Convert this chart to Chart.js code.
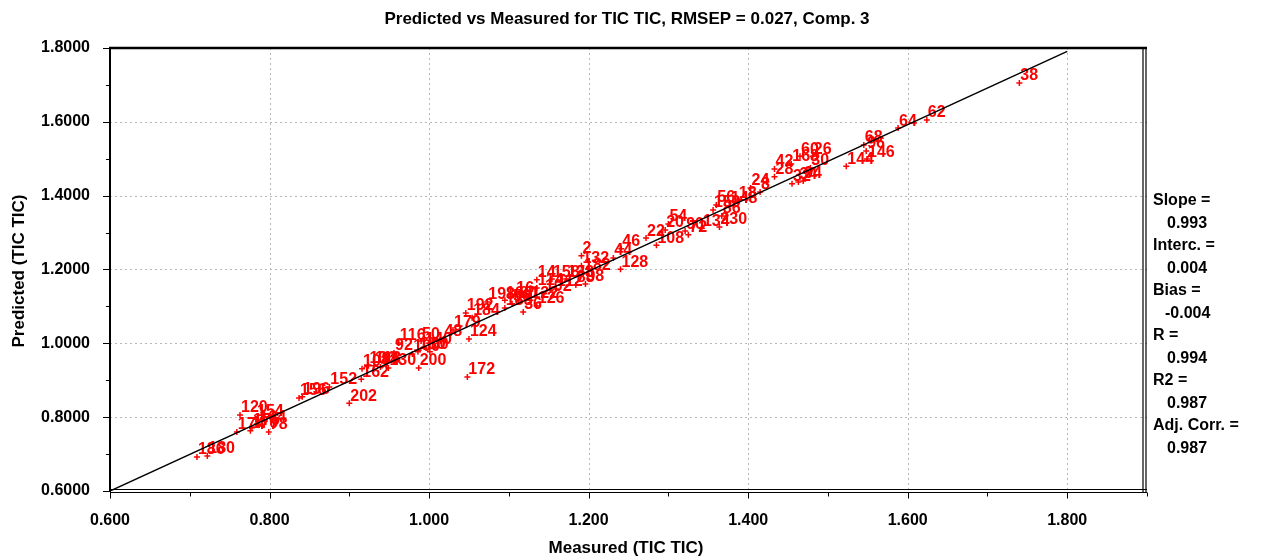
<!DOCTYPE html>
<html>
<head>
<meta charset="utf-8">
<script src="https://cdn.jsdelivr.net/npm/chart.js@4.4.1/dist/chart.umd.min.js"></script>
<style>
  html, body { margin: 0; padding: 0; background: #fff; }
  #wrap { width: 1261px; height: 557px; }
</style>
</head>
<body>
<div id="wrap"><canvas id="predChart" width="1261" height="557"></canvas></div>
<script>
const chartTitle = 'Predicted vs Measured for TIC TIC, RMSEP = 0.027, Comp. 3';
const xTitle = 'Measured (TIC TIC)';
const yTitle = 'Predicted (TIC TIC)';

const pointLabels = [
  '186', '180', '174', '120', '154', '170', '176', '164', '78',
  '156', '196', '152', '202', '162', '104', '136', '118', '84', '130',
  '200', '172', '92', '100', '180', '90', '116', '50', '140', '48', '179',
  '124', '192', '184', '198', '166', '188', '56', '80', '36', '16', '122',
  '126', '102', '114', '112', '14', '158', '138',
  '2', '132', '182', '88', '98', '44', '46', '128', '108', '22',
  '54', '20', '90', '72', '134', '230', '150', '86', '56', '148', '18',
  '24', '8', '42', '28', '168', '60', '26', '30', '32', '34', '94',
  '144', '68', '96', '146', '64', '62', '38'
];
const measured = [
  0.709, 0.722, 0.759, 0.763, 0.783, 0.776, 0.778, 0.786, 0.799,
  0.837, 0.841, 0.875, 0.900, 0.915, 0.916, 0.924, 0.931, 0.939, 0.949,
  0.987, 1.048, 0.956, 0.979, 0.986, 1.001, 0.962, 0.990, 0.994, 1.018, 1.030,
  1.050, 1.046, 1.054, 1.073, 1.095, 1.095, 1.104, 1.112, 1.118, 1.108, 1.127,
  1.135, 1.144, 1.135, 1.159, 1.135, 1.154, 1.172,
  1.191, 1.191, 1.193, 1.184, 1.196, 1.231, 1.241, 1.240, 1.285, 1.272,
  1.300, 1.296, 1.321, 1.325, 1.342, 1.364, 1.356, 1.367, 1.360, 1.377, 1.387,
  1.403, 1.415, 1.433, 1.433, 1.454, 1.465, 1.481, 1.478, 1.455, 1.463, 1.469,
  1.523, 1.545, 1.548, 1.549, 1.588, 1.624, 1.740
];
const predicted = [
  0.692, 0.695, 0.760, 0.806, 0.795, 0.763, 0.771, 0.779, 0.760,
  0.852, 0.855, 0.882, 0.838, 0.903, 0.931, 0.939, 0.939, 0.936, 0.933,
  0.933, 0.909, 0.974, 0.971, 0.977, 0.977, 1.001, 1.006, 0.990, 1.012, 1.036,
  1.012, 1.082, 1.069, 1.112, 1.117, 1.096, 1.107, 1.115, 1.085, 1.128, 1.117,
  1.101, 1.134, 1.150, 1.147, 1.172, 1.174, 1.174,
  1.237, 1.210, 1.191, 1.158, 1.161, 1.231, 1.256, 1.201, 1.266, 1.285,
  1.323, 1.307, 1.304, 1.294, 1.312, 1.315, 1.361, 1.345, 1.375, 1.372, 1.388,
  1.421, 1.410, 1.472, 1.451, 1.486, 1.507, 1.507, 1.475, 1.432, 1.437, 1.440,
  1.480, 1.537, 1.521, 1.499, 1.583, 1.605, 1.705
];

// fitted line end points
const lineX = [0.600, 1.800];
const lineY = [0.600, 1.791];

const statLines = [
  'Slope =', '0.993', 'Interc. =', '0.004', 'Bias =', '-0.004',
  'R =', '0.994', 'R2 =', '0.987', 'Adj. Corr. =', '0.987'
];

const FONT = 'Arial, "Liberation Sans", sans-serif';

function isMajor(v) {
  return Math.round(v * 10) % 2 === 0;
}

const decorPlugin = {
  id: 'decor',
  beforeDatasetsDraw(chart) {
    const { ctx, chartArea: a, scales: { x, y } } = chart;
    ctx.save();
    // dotted grid
    ctx.strokeStyle = '#b8b8b8';
    ctx.lineWidth = 1;
    ctx.setLineDash([2, 3]);
    x.ticks.forEach(t => {
      if (!isMajor(t.value)) return;
      const px = Math.round(x.getPixelForValue(t.value)) + 0.5;
      if (px <= a.left + 2 || px >= a.right - 2) return;
      ctx.beginPath(); ctx.moveTo(px, a.top); ctx.lineTo(px, a.bottom); ctx.stroke();
    });
    y.ticks.forEach(t => {
      if (!isMajor(t.value)) return;
      const py = Math.round(y.getPixelForValue(t.value)) + 0.5;
      if (py <= a.top + 2 || py >= a.bottom - 2) return;
      ctx.beginPath(); ctx.moveTo(a.left, py); ctx.lineTo(a.right, py); ctx.stroke();
    });
    ctx.setLineDash([]);

    // sample numbers next to the markers
    ctx.fillStyle = '#ff0000';
    ctx.font = 'bold 16px ' + FONT;
    ctx.textAlign = 'left';
    ctx.textBaseline = 'bottom';
    const meta = chart.getDatasetMeta(1);
    meta.data.forEach((pt, i) => {
      ctx.fillText(pointLabels[i], pt.x + 1, pt.y + 1);
    });
    ctx.restore();
  },
  afterDraw(chart) {
    const { ctx, chartArea: a, scales: { x, y } } = chart;
    ctx.save();
    ctx.strokeStyle = '#000';

    // frame
    ctx.lineWidth = 2.5;
    ctx.beginPath(); ctx.moveTo(a.left - 1, a.top); ctx.lineTo(a.right, a.top); ctx.stroke();
    ctx.lineWidth = 2;
    ctx.beginPath(); ctx.moveTo(a.left, a.top); ctx.lineTo(a.left, a.bottom + 1); ctx.stroke();
    ctx.lineWidth = 1.2;
    ctx.beginPath(); ctx.moveTo(a.left, a.bottom - 1.5); ctx.lineTo(a.right, a.bottom - 1.5); ctx.stroke();
    ctx.beginPath(); ctx.moveTo(a.left, a.bottom + 1.5); ctx.lineTo(a.right, a.bottom + 1.5); ctx.stroke();
    ctx.beginPath(); ctx.moveTo(a.right - 4, a.top); ctx.lineTo(a.right - 4, a.bottom + 1.5); ctx.stroke();
    ctx.beginPath(); ctx.moveTo(a.right - 1, a.top); ctx.lineTo(a.right - 1, a.bottom + 1.5); ctx.stroke();

    // tick marks
    ctx.lineWidth = 1;
    x.ticks.forEach(t => {
      const px = Math.round(x.getPixelForValue(t.value)) + 0.5;
      const len = isMajor(t.value) ? 6 : 4;
      ctx.beginPath(); ctx.moveTo(px, a.bottom + 1.5); ctx.lineTo(px, a.bottom + 1.5 + len); ctx.stroke();
    });
    y.ticks.forEach(t => {
      const py = Math.round(y.getPixelForValue(t.value)) + 0.5;
      const len = isMajor(t.value) ? 7 : 4;
      ctx.beginPath(); ctx.moveTo(a.left - len, py); ctx.lineTo(a.left, py); ctx.stroke();
    });

    // titles
    ctx.fillStyle = '#000';
    ctx.font = 'bold 17px ' + FONT;
    ctx.textAlign = 'center';
    ctx.textBaseline = 'alphabetic';
    ctx.fillText(chartTitle, 627, 24);
    ctx.fillText(xTitle, 626, 553);
    ctx.save();
    ctx.translate(24, 271);
    ctx.rotate(-Math.PI / 2);
    ctx.fillText(yTitle, 0, 0);
    ctx.restore();

    // statistics column
    ctx.font = 'bold 16px ' + FONT;
    ctx.textAlign = 'left';
    statLines.forEach((s, i) => {
      const xx = i % 2 === 0 ? 1153 : (s.startsWith('-') ? 1165 : 1167);
      ctx.fillText(s, xx, 205 + i * 22.5);
    });
    ctx.restore();
  }
};

new Chart(document.getElementById('predChart'), {
  type: 'scatter',
  data: {
    datasets: [
      {
        type: 'line',
        data: lineX.map((v, i) => ({ x: v, y: lineY[i] })),
        borderColor: '#000',
        borderWidth: 1.5,
        pointRadius: 0,
        fill: false
      },
      {
        data: measured.map((v, i) => ({ x: v, y: predicted[i] })),
        pointStyle: 'cross',
        pointRadius: 3,
        borderColor: '#ff0000',
        backgroundColor: '#ff0000',
        borderWidth: 1.5
      }
    ]
  },
  options: {
    responsive: false,
    animation: false,
    layout: { padding: { top: 48, right: 114, left: 0, bottom: 0 } },
    plugins: {
      legend: { display: false },
      tooltip: { enabled: false },
      title: { display: false }
    },
    scales: {
      x: {
        type: 'linear',
        min: 0.6,
        max: 1.9,
        border: { display: false },
        grid: { display: false, drawTicks: false },
        ticks: {
          stepSize: 0.1,
          autoSkip: false,
          maxRotation: 0,
          padding: 20,
          color: '#000',
          font: { family: FONT, size: 16, weight: 'bold' },
          callback: v => isMajor(v) ? Number(v).toFixed(3) : ''
        },
        afterFit: s => { s.height = 66; }
      },
      y: {
        type: 'linear',
        min: 0.6,
        max: 1.8,
        border: { display: false },
        grid: { display: false, drawTicks: false },
        ticks: {
          stepSize: 0.1,
          autoSkip: false,
          padding: 20,
          color: '#000',
          font: { family: FONT, size: 16, weight: 'bold' },
          callback: v => isMajor(v) ? Number(v).toFixed(4) : ''
        },
        afterFit: s => { s.width = 110; }
      }
    }
  },
  plugins: [decorPlugin]
});
</script>
</body>
</html>
